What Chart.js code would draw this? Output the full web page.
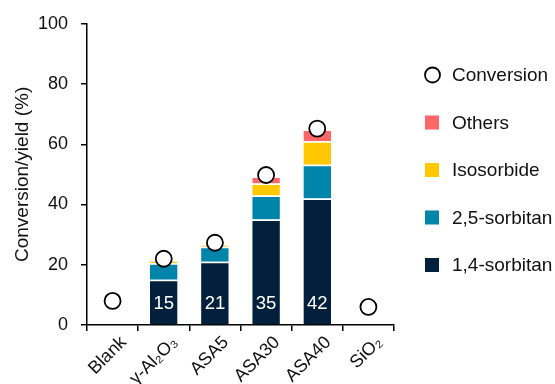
<!DOCTYPE html>
<html>
<head>
<meta charset="utf-8">
<script src="https://cdn.jsdelivr.net/npm/chart.js@4/dist/chart.umd.min.js"></script>
<style>
  html, body { margin: 0; padding: 0; background: #fff; }
  #wrap { width: 555px; height: 384px; }
</style>
</head>
<body>
<div id="wrap"><canvas id="chart" width="555" height="384"></canvas></div>
<script>
// Catalysts tested
const categories = ['Blank', 'γ-Al₂O₃', 'ASA5', 'ASA30', 'ASA40', 'SiO₂'];

// Product yields (%)
const sorbitan14 = [null, 15, 21, 35, 42, null];
const sorbitan25 = [null, 5.5, 5, 8, 11.2, null];
const isosorbide = [null, 1, 0.6, 4, 7.8, null];
const others     = [null, 0, 0, 2.3, 3.9, null];

// Sorbitol conversion (%)
const conversion = [8, 22, 27.3, 49.8, 65.2, 6];

// Y axis ticks
const yTicks = [0, 20, 40, 60, 80, 100];

const FONT = 'Liberation Sans, Arial, sans-serif';
const INK = '#111';
const COLORS = {
  s14: '#021f3b',
  s25: '#0085aa',
  iso: '#ffc800',
  oth: '#fc6767'
};

// White numbers inside the 1,4-sorbitan segments
const barValueLabels = {
  id: 'barValueLabels',
  afterDatasetsDraw(chart) {
    const { ctx } = chart;
    const idx = chart.data.datasets.findIndex(d => d.label === '1,4-sorbitan');
    const meta = chart.getDatasetMeta(idx);
    ctx.save();
    ctx.font = '18.5px ' + FONT;
    ctx.fillStyle = '#fff';
    ctx.textAlign = 'center';
    ctx.textBaseline = 'middle';
    meta.data.forEach((bar, i) => {
      const v = chart.data.datasets[idx].data[i];
      if (v == null) return;
      ctx.fillText(String(v), bar.x, bar.base - 20);
    });
    ctx.restore();
  }
};

// Legend column on the right
const sideLegend = {
  id: 'sideLegend',
  afterDraw(chart) {
    const { ctx } = chart;
    const order = ['Conversion', 'Others', 'Isosorbide', '2,5-sorbitan', '1,4-sorbitan'];
    const x0 = 425, tx = 452, y0 = 75, dy = 47.5, box = 14;
    ctx.save();
    ctx.font = '19px ' + FONT;
    ctx.textBaseline = 'middle';
    ctx.textAlign = 'left';
    order.forEach((name, i) => {
      const ds = chart.data.datasets.find(d => d.label === name);
      const y = y0 + i * dy;
      if (ds.type === 'line') {
        ctx.beginPath();
        ctx.arc(x0 + box / 2 + 0.5, y, 7.5, 0, Math.PI * 2);
        ctx.fillStyle = '#fff';
        ctx.fill();
        ctx.lineWidth = 1.8;
        ctx.strokeStyle = '#000';
        ctx.stroke();
      } else {
        ctx.fillStyle = ds.backgroundColor;
        ctx.fillRect(x0, y - box / 2, box, box);
      }
      ctx.fillStyle = INK;
      ctx.fillText(name, tx, y + 1);
    });
    ctx.restore();
  }
};

const segBorder = { top: 1.5, bottom: 0, left: 0, right: 0 };
const barCommon = {
  stack: 'yield',
  order: 1,
  borderColor: '#fff',
  borderWidth: segBorder,
  borderSkipped: false,
  barPercentage: 0.54,
  categoryPercentage: 1.0
};

new Chart(document.getElementById('chart'), {
  type: 'bar',
  data: {
    labels: categories,
    datasets: [
      {
        type: 'line',
        label: 'Conversion',
        data: conversion,
        stack: 'conv',
        order: 0,
        showLine: false,
        pointRadius: 8,
        pointHoverRadius: 8,
        pointBackgroundColor: '#fff',
        pointBorderColor: '#000',
        pointBorderWidth: 1.8
      },
      Object.assign({ label: '1,4-sorbitan', data: sorbitan14, backgroundColor: COLORS.s14 }, barCommon),
      Object.assign({ label: '2,5-sorbitan', data: sorbitan25, backgroundColor: COLORS.s25 }, barCommon),
      Object.assign({ label: 'Isosorbide', data: isosorbide, backgroundColor: COLORS.iso }, barCommon),
      Object.assign({ label: 'Others', data: others, backgroundColor: COLORS.oth }, barCommon)
    ]
  },
  options: {
    responsive: false,
    animation: false,
    devicePixelRatio: 1,
    layout: { padding: { left: 4, right: 161, top: 13, bottom: 0 } },
    plugins: {
      legend: { display: false },
      tooltip: { enabled: false }
    },
    scales: {
      x: {
        stacked: true,
        offset: true,
        grid: {
          offset: true,
          drawOnChartArea: false,
          drawTicks: true,
          tickLength: 6,
          color: '#000',
          lineWidth: 1.5
        },
        border: { display: true, color: '#000', width: 1.5 },
        ticks: {
          minRotation: 45,
          maxRotation: 45,
          padding: 1,
          labelOffset: 11,
          color: INK,
          font: { family: FONT, size: 18 }
        },
        afterFit(scale) { scale.height = 59; }
      },
      y: {
        stacked: true,
        min: 0,
        max: 100,
        afterBuildTicks(scale) { scale.ticks = yTicks.map(v => ({ value: v })); },
        grid: {
          drawOnChartArea: false,
          drawTicks: true,
          tickLength: 6,
          color: '#000',
          lineWidth: 1.5
        },
        border: { display: true, color: '#000', width: 1.5 },
        ticks: {
          padding: 13,
          color: INK,
          font: { family: FONT, size: 18 }
        },
        title: {
          display: true,
          text: 'Conversion/yield (%)',
          color: INK,
          font: { family: FONT, size: 19 },
          padding: { top: 7, bottom: 2 }
        },
        afterFit(scale) { scale.width = 83; }
      }
    }
  },
  plugins: [barValueLabels, sideLegend]
});
</script>
</body>
</html>
